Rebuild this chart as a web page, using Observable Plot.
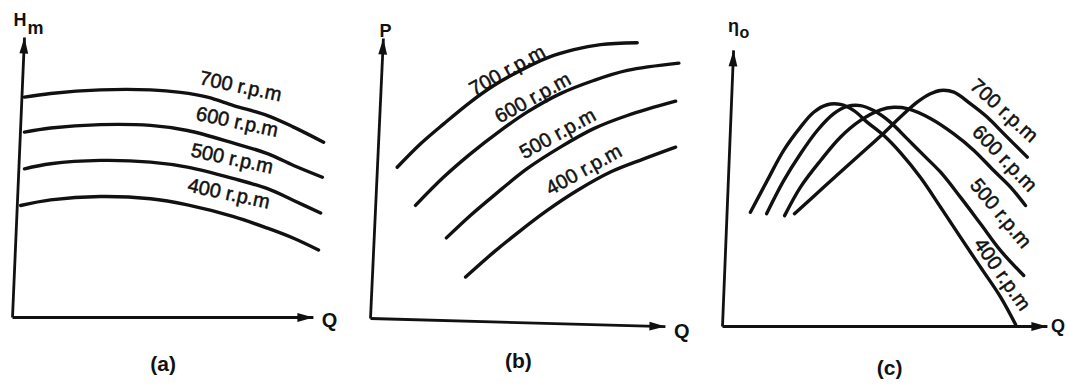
<!DOCTYPE html>
<html>
<head>
<meta charset="utf-8">
<script src="https://cdn.jsdelivr.net/npm/d3@7"></script>
<script src="https://cdn.jsdelivr.net/npm/@observablehq/plot@0.6"></script>
<style>
  html, body { margin: 0; padding: 0; background: #fff; overflow: hidden; }
  #row { display: flex; width: 1066px; height: 388px; }
  #row svg { display: block; flex: none; max-width: none; }
</style>
</head>
<body>
<div id="row"></div>
<script>
// ---------- DATA (arbitrary units) ----------
const speeds = ["700 r.p.m", "600 r.p.m", "500 r.p.m", "400 r.p.m"];

// (a) manometric head Hm vs discharge Q
const head700 = [[0.4,7.87],[1.27,8.0],[2.93,8.13],[4.6,8.13],[5.6,8.04],[6.5,7.87],[7.37,7.57],[8.5,7.21],[9.37,6.8],[10.37,6.26]];
const head600 = [[0.4,6.62],[1.27,6.77],[2.93,6.89],[4.6,6.86],[5.83,6.68],[7.37,6.23],[8.5,5.85],[9.37,5.43],[10.33,5.01]];
const head500 = [[0.4,5.31],[1.27,5.49],[2.93,5.61],[4.6,5.55],[5.83,5.37],[7.37,4.96],[8.5,4.6],[9.37,4.18],[10.27,3.73]];
const head400 = [[0.27,4.0],[1.27,4.2],[2.93,4.32],[4.6,4.24],[5.83,4.02],[7.37,3.6],[8.5,3.19],[9.37,2.83],[10.2,2.41]];

// (b) power P vs Q
const power700 = [[0.89,5.40],[1.67,6.24],[2.44,6.95],[3.33,7.73],[4.11,8.32],[5.0,8.86],[5.89,9.31],[6.78,9.6],[7.67,9.78],[8.89,9.85]];
const power600 = [[1.5,4.04],[2.44,5.05],[3.33,5.88],[4.33,6.71],[5.22,7.37],[6.33,8.03],[7.44,8.5],[8.56,8.86],[10.28,9.12]];
const power500 = [[2.53,2.88],[3.33,3.68],[4.11,4.39],[5.22,5.35],[6.33,6.12],[7.44,6.78],[8.56,7.25],[10.17,7.76]];
const power400 = [[3.17,1.48],[4.11,2.37],[5.0,3.14],[5.89,3.86],[6.89,4.57],[8.0,5.23],[9.11,5.70],[10.17,6.12]];

// (c) overall efficiency vs Q
const eff700 = [[2.4,4.03],[3.38,4.98],[4.49,6.05],[5.27,6.80],[5.93,7.48],[6.49,8.01],[6.93,8.31],[7.27,8.43],[7.71,8.37],[8.27,7.95],[8.82,7.48],[9.38,6.88],[10.16,6.05]];
const eff600 = [[2.07,3.96],[2.6,4.98],[3.27,5.93],[3.93,6.76],[4.6,7.36],[5.27,7.74],[5.71,7.83],[6.16,7.78],[6.93,7.43],[7.71,6.88],[8.38,6.29],[9.04,5.57],[9.6,4.98],[10.1,4.32]];
const eff500 = [[1.47,4.03],[2.04,5.21],[2.6,6.17],[3.16,7.0],[3.71,7.6],[4.16,7.86],[4.6,7.89],[5.04,7.71],[5.6,7.29],[6.16,6.70],[6.71,6.11],[7.27,5.51],[7.93,4.62],[8.6,3.67],[9.27,2.71],[10.04,1.82]];
const eff400 = [[0.93,4.08],[1.49,5.21],[2.04,6.29],[2.6,7.12],[3.04,7.65],[3.49,7.92],[3.93,7.93],[4.38,7.71],[4.82,7.30],[5.38,6.82],[5.93,6.21],[6.6,5.32],[7.27,4.26],[7.93,3.19],[8.6,2.12],[9.27,1.05],[9.77,0.07]];

// label anchors (data units), order follows `speeds`
const labelsA = [[7.6,8.25],[7.49,6.98],[7.32,5.67],[7.21,4.42]];
const labelsB = [[4.56,8.86],[5.41,7.88],[6.24,6.6],[7.11,5.31]];
const labelsC = [[9.38,7.71],[9.4,6.0],[9.27,4.04],[9.32,1.86]];

// axis tips (data units)
const axisA = {yTip:[0.4,10], xTip:[10.03,0]};
const axisB = {yTip:[0.43,10], xTip:[9.83,-0.29]};
const axisC = {yTip:[0.37,9.86], xTip:[10.83,0]};

// ---------- DRAWING ----------
const INK = "#111";
const FONT = "'Liberation Sans', Arial, Helvetica, sans-serif";

// filled arrowhead with its tip at the origin, pointing up
const arrowHead = {
  draw(ctx) {
    ctx.moveTo(0, 0);
    ctx.lineTo(4.4, 16);
    ctx.lineTo(-4.4, 16);
    ctx.closePath();
  }
};

function panel({width, xRange, yRange, series, labels, rot, axis, yRot, xRot, names, caption}) {
  const marks = [];
  // axes
  marks.push(Plot.link([axis.yTip, axis.xTip], {
    x1: () => 0, y1: () => 0, x2: d => d[0], y2: d => d[1],
    stroke: INK, strokeWidth: 2.8
  }));
  marks.push(Plot.dot([axis.yTip], {x: d => d[0], y: d => d[1], symbol: arrowHead, fill: INK, stroke: "none", rotate: yRot}));
  marks.push(Plot.dot([axis.xTip], {x: d => d[0], y: d => d[1], symbol: arrowHead, fill: INK, stroke: "none", rotate: xRot}));
  // curves
  series.forEach(s => marks.push(Plot.line(s, {
    x: d => d[0], y: d => d[1], curve: "catmull-rom",
    stroke: INK, strokeWidth: 3.4, strokeLinecap: "round"
  })));
  // curve labels
  marks.push(Plot.text(labels, {
    x: d => d[0], y: d => d[1], text: (d, i) => speeds[i],
    rotate: (d, i) => rot[i], fontSize: 20, fontFamily: FONT,
    fill: INK, stroke: INK, strokeWidth: 0.5
  }));
  // axis names
  names.forEach(n => marks.push(Plot.text([n], {
    x: d => d.x, y: d => d.y, text: d => d.t, fontSize: d => d.size,
    fontFamily: FONT, fontWeight: "bold", fill: INK, textAnchor: n.anchor || "middle"
  })));
  // caption
  marks.push(Plot.text([caption], {
    x: d => d.x, y: d => d.y, text: d => d.t,
    fontSize: 21, fontFamily: FONT, fontWeight: "bold", fill: INK
  }));
  return Plot.plot({
    width, height: 388,
    x: {domain: [0, 10], range: xRange, axis: null},
    y: {domain: [0, 10], range: yRange, axis: null},
    style: {background: "#fff"},
    marks
  });
}

const row = document.getElementById("row");

row.append(panel({
  width: 355, xRange: [12, 312], yRange: [317, 37],
  series: [head700, head600, head500, head400],
  labels: labelsA, rot: [12, 12, 12, 12],
  axis: axisA, yRot: 2.5, xRot: 90,
  names: [
    {t: "H", x: 0.25, y: 10.63, size: 18},
    {t: "m", x: 0.77, y: 10.32, size: 18},
    {t: "Q", x: 10.57, y: -0.11, size: 20}
  ],
  caption: {t: "(a)", x: 5.02, y: -1.68}
}));

row.append(panel({
  width: 350, xRange: [15, 315], yRange: [318, 38],
  series: [power700, power600, power500, power400],
  labels: labelsB, rot: [-29, -29, -29, -29],
  axis: axisB, yRot: 2.6, xRot: 91.6,
  names: [
    {t: "P", x: 0.5, y: 10.25, size: 18},
    {t: "Q", x: 10.38, y: -0.48, size: 20}
  ],
  caption: {t: "(b)", x: 4.93, y: -1.54}
}));

row.append(panel({
  width: 361, xRange: [17, 317], yRange: [326, 46],
  series: [eff700, eff600, eff500, eff400],
  labels: labelsC, rot: [42, 46, 50, 55],
  axis: axisC, yRot: 2.3, xRot: 90,
  names: [
    {t: "η", x: 0.37, y: 10.71, size: 18},
    {t: "o", x: 0.73, y: 10.5, size: 16},
    {t: "Q", x: 10.95, y: 0, size: 18, anchor: "start"}
  ],
  caption: {t: "(c)", x: 5.57, y: -1.48}
}));
</script>
</body>
</html>
